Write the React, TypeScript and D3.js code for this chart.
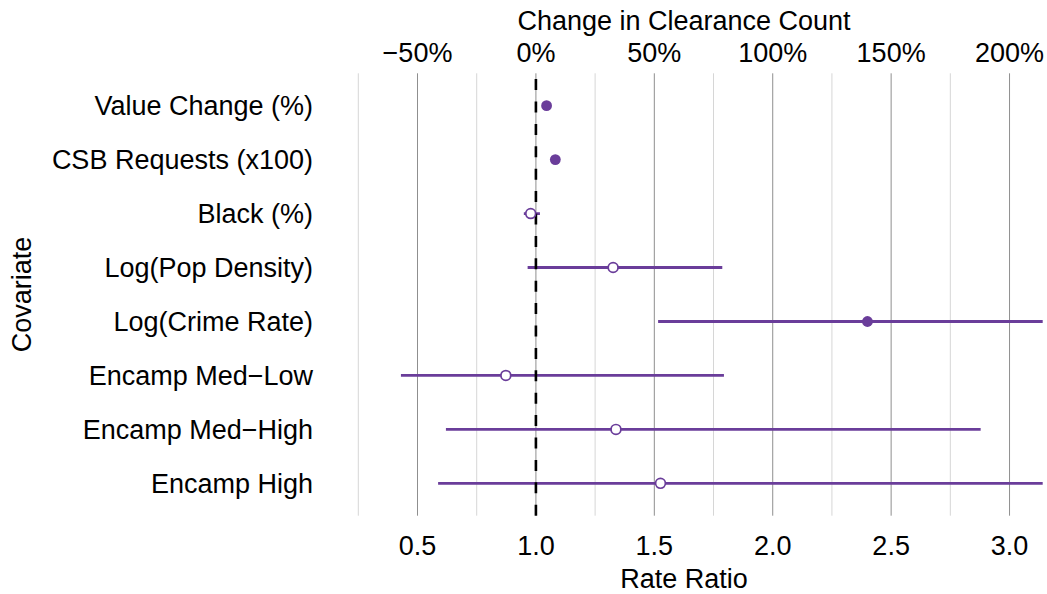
import React from "react";
import * as d3 from "d3";

const covariates = [
  "Value Change (%)",
  "CSB Requests (x100)",
  "Black (%)",
  "Log(Pop Density)",
  "Log(Crime Rate)",
  "Encamp Med\u2212Low",
  "Encamp Med\u2212High",
  "Encamp High",
];
const estimates = [1.045, 1.082, 0.978, 1.326, 2.40, 0.873, 1.338, 1.526];
const lowerCI = [1.035, 1.072, 0.949, 0.965, 1.516, 0.430, 0.620, 0.587];
const upperCI = [1.055, 1.092, 1.017, 1.787, 3.80, 1.794, 2.878, 3.95];
const significant = [true, true, false, false, true, false, false, false];
const majorTicks = [0.5, 1.0, 1.5, 2.0, 2.5, 3.0];
const minorTicks = [0.25, 0.75, 1.25, 1.75, 2.25, 2.75];

const W = 1047;
const H = 594;
const panel = { left: 358.3, right: 1042.7, top: 73.3, bottom: 515.7 };
const purple = "#6a3d9a";
const font = "'Liberation Sans', Arial, Helvetica, sans-serif";

export default function App() {
  const x = d3.scaleLinear().domain([0.25, 3.14]).range([panel.left, panel.right]);
  const y = d3
    .scalePoint<string>()
    .domain(covariates)
    .range([panel.top, panel.bottom])
    .padding(0.6);

  const fmtBottom = d3.format(".1f");
  const fmtTop = (v: number) => {
    const p = Math.round((v - 1) * 100);
    return (p < 0 ? "\u2212" + Math.abs(p) : String(p)) + "%";
  };
  const titleX = 684;

  return (
    <svg
      width={W}
      height={H}
      style={{ position: "absolute", left: 0, top: 0, background: "#fff" }}
      fontFamily={font}
    >
      <defs>
        <clipPath id="panelClip">
          <rect x={panel.left - 5} y={panel.top} width={panel.right - panel.left + 5} height={panel.bottom - panel.top} />
        </clipPath>
      </defs>
      <rect x={0} y={0} width={W} height={H} fill="#fff" />
      {minorTicks.map((t) => (
        <line key={"mi" + t} x1={x(t)} x2={x(t)} y1={panel.top} y2={panel.bottom} stroke="#d6d6d6" strokeWidth={1} />
      ))}
      {majorTicks.map((t) => (
        <line key={"ma" + t} x1={x(t)} x2={x(t)} y1={panel.top} y2={panel.bottom} stroke="#8f8f8f" strokeWidth={1} />
      ))}
      <g clipPath="url(#panelClip)">
        {covariates.map((c, i) => (
          <line
            key={"ci" + c}
            x1={x(lowerCI[i])}
            x2={x(upperCI[i])}
            y1={y(c)!}
            y2={y(c)!}
            stroke={purple}
            strokeWidth={2.8}
          />
        ))}
      </g>
      <line
        x1={x(1)}
        x2={x(1)}
        y1={panel.bottom}
        y2={panel.top}
        stroke="#000"
        strokeWidth={2.6}
        strokeDasharray="11 11.4"
      />
      {covariates.map((c, i) =>
        significant[i] ? (
          <circle key={"pt" + c} cx={x(estimates[i])} cy={y(c)!} r={5.4} fill={purple} />
        ) : (
          <circle key={"pt" + c} cx={x(estimates[i])} cy={y(c)!} r={4.9} fill="#fff" stroke={purple} strokeWidth={1.7} />
        )
      )}
      {covariates.map((c) => (
        <text key={"yl" + c} x={313} y={y(c)!} dy="0.36em" textAnchor="end" fontSize={27} fill="#000">
          {c}
        </text>
      ))}
      {majorTicks.map((t) => (
        <text key={"bt" + t} x={x(t)} y={545} dy="0.36em" textAnchor="middle" fontSize={27} fill="#000">
          {fmtBottom(t)}
        </text>
      ))}
      {majorTicks.map((t) => (
        <text key={"tt" + t} x={x(t)} y={52} dy="0.36em" textAnchor="middle" fontSize={27} fill="#000">
          {fmtTop(t)}
        </text>
      ))}
      <text x={titleX} y={578} dy="0.36em" textAnchor="middle" fontSize={27} fill="#000">
        Rate Ratio
      </text>
      <text x={titleX} y={20} dy="0.36em" textAnchor="middle" fontSize={27} fill="#000">
        Change in Clearance Count
      </text>
      <text
        transform={`translate(21,${(panel.top + panel.bottom) / 2}) rotate(-90)`}
        dy="0.36em"
        textAnchor="middle"
        fontSize={27}
        fill="#000"
      >
        Covariate
      </text>
    </svg>
  );
}
